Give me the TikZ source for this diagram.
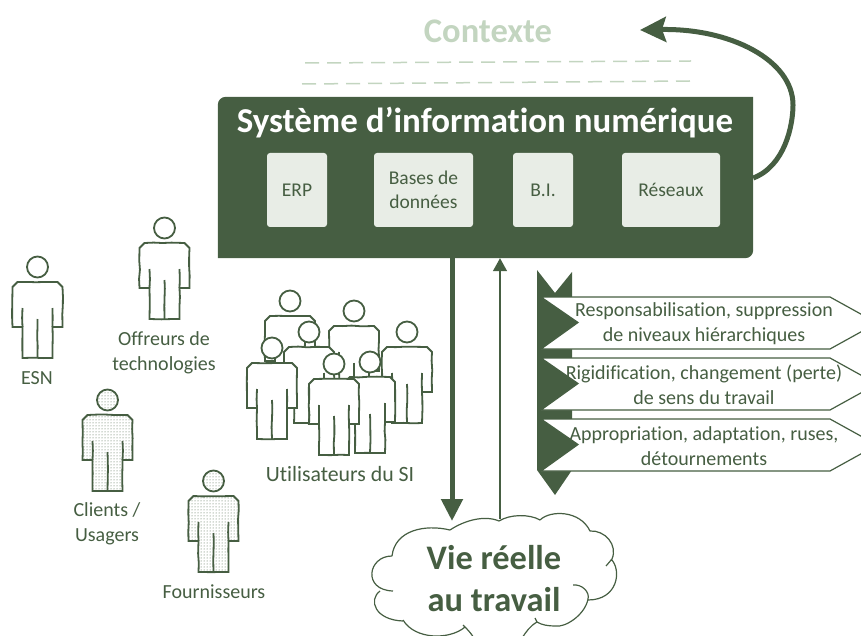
\documentclass[tikz,border=0pt]{standalone}
\usepackage{fontspec}
\setmainfont[Ligatures=CommonOff]{Carlito}
\usetikzlibrary{arrows.meta,patterns,decorations.pathmorphing}
\definecolor{dkgreen}{HTML}{465E42}
\definecolor{ltgreen}{HTML}{E8EDE6}
\definecolor{ctxgreen}{HTML}{C3D5C0}
\tikzset{
  sketchy/.style={decorate,decoration={random steps,segment length=9pt,amplitude=0.45pt}},
  person/.pic={
    \path[pic actions] (0,0) circle (10.5);
    \path[pic actions,sketchy] (-25,20) -- (-20,15) -- (20,15) -- (25,20) -- (25,60) -- (15,60)
      -- (15,91) -- (-15,91) -- (-15,60) -- (-25,60) -- cycle;
    \draw[dkgreen,line width=1.8pt,sketchy] (-15,60) -- (-15,41) (15,60) -- (15,41) (0,52) -- (0,91);
  },
  plainperson/.style={draw=dkgreen,line width=1.8pt,fill=white},
  dotperson/.style={draw=dkgreen,line width=1.8pt,pattern=dots,pattern color=dkgreen},
  sublabel/.style={text=dkgreen,font=\fontsize{20}{25}\selectfont,align=center,inner sep=0pt},
  innerbox/.style={fill=ltgreen,rounded corners=3pt,minimum height=74pt,inner sep=0pt,
    text=dkgreen,font=\fontsize{19.5}{24}\selectfont,align=center},
  bigarrow/.style={draw=dkgreen,line width=5pt,-{Triangle[length=22pt,width=21pt]}},
  thinarrow/.style={draw=dkgreen,line width=1.4pt,-{Triangle[length=13pt,width=14pt]}},
  chevron/.style={draw=dkgreen,line width=1.2pt,fill=white},
  dashline/.style={draw=ctxgreen,line width=1.5pt,dash pattern=on 14pt off 8pt},
}
\begin{document}
\begin{tikzpicture}[x=1pt,y=-1pt]
  \pgfmathsetseed{7}
  \path[use as bounding box,clip] (0,0) rectangle (861,636);

  % contexte
  \node (contexte) at (488,31) [text=ctxgreen,font=\fontsize{34.5}{40}\bfseries\selectfont,inner sep=0pt] {Contexte};
  \draw[dashline] (305,63) -- (691,61);
  \draw[dashline] (302,84) -- (690,81);

  % systeme
  \node (sysbox) at (485.5,177.5) [minimum width=535pt,minimum height=161pt,inner sep=0pt] {};
  \fill[dkgreen] (sysbox.south west) [rounded corners=8pt] -- (sysbox.north west)
    [sharp corners] -- (sysbox.north east) [rounded corners=8pt] -- (sysbox.south east)
    [sharp corners] -- cycle;
  \node (systitle) at (485,123) [text=white,font=\fontsize{34.9}{40}\bfseries\selectfont,inner sep=0pt] {Système d’information numérique};
  \node[innerbox,minimum width=60pt] (erp) at (297,190) {ERP};
  \node[innerbox,minimum width=99pt] (bases) at (423.5,190) {Bases de\\données};
  \node[innerbox,minimum width=60pt] (bi) at (543,190) {B.I.};
  \node[innerbox,minimum width=98pt] (reseaux) at (671,190) {Réseaux};
  \coordinate (ctxtip) at (640,30);
  \draw[dkgreen,line width=5pt,-{Stealth[length=26pt,width=25pt,inset=4pt]}]
    (sysbox.east |- 0,178) .. controls (785,166) and (793,125) .. (793,105)
    .. controls (793,60) and (730,28) .. (ctxtip);

  % personnes
  \foreach \px/\py in {37.5/267,164.5/228}
    \pic[plainperson] at (\px,\py) {person};
  \foreach \px/\py in {107.5/400,213.5/481}
    \pic[dotperson] at (\px,\py) {person};
  \foreach \px/\py in {290/301,354/311,407/332,309/332,370/362,272/348,334/364}
    \pic[plainperson] at (\px,\py) {person};
  \node[sublabel] (esn) at (37,378) {ESN};
  \node[sublabel] (offreurs) at (164,353) {Offreurs de\\technologies};
  \node[sublabel] (clients) at (107,524) {Clients /\\Usagers};
  \node[sublabel] (fournisseurs) at (214,592) {Fournisseurs};
  \node[sublabel,font=\fontsize{21.8}{25}\selectfont] (utilisateurs) at (340,474) {Utilisateurs du SI};

  % nuage
  \draw[dkgreen,line width=1.2pt]
    (450,530) .. controls (425,524) and (395,530) .. (392,556)
    (392,556) .. controls (368,556) and (362,590) .. (393,591)
    (380,591) .. controls (368,600) and (375,620) .. (403,621)
    (403,620) .. controls (415,640) and (450,640) .. (465,627)
    (463,625) .. controls (468,630) and (470,632) .. (474,638)
    (522,638) .. controls (526,632) and (530,626) .. (537,622)
    (537,622) -- (535,618)
    (450,530) .. controls (465,520) and (485,515) .. (499,521)
    (499,521) .. controls (510,514) and (530,514) .. (540,520)
    (540,520) .. controls (550,510) and (580,510) .. (590,531)
    (590,531) .. controls (605,530) and (618,545) .. (612,559) -- (606,566)
    (611,559) .. controls (622,570) and (618,600) .. (588,600)
    (573,585) .. controls (582,584) and (590,592) .. (588,599)
    (588,599) .. controls (585,615) and (565,628) .. (555,626)
    .. controls (548,626) and (542,625) .. (537,622);
  \node (vie) at (494,579) [text=dkgreen,font=\fontsize{34.4}{42}\bfseries\selectfont,align=center,inner sep=0pt] {Vie réelle\\au travail};
  \coordinate (viedown) at (452,521);
  \coordinate (vieup) at (500,519);
  \draw[bigarrow] (viedown |- sysbox.south) -- (viedown);
  \draw[thinarrow] (vieup) -- (vieup |- sysbox.south);

  % chevrons
  \fill[dkgreen] (537,270) -- (555,293) -- (572,272) -- (572,470) -- (555,495) -- (537,470) -- cycle;
  \foreach \cy/\lineA/\lineB in {297/{Responsabilisation, suppression}/{de niveaux hiérarchiques},
                                 358/{Rigidification, changement (perte)}/{de sens du travail},
                                 419/{Appropriation, adaptation, ruses,}/{détournements}}{
    \fill[dkgreen] (541,\cy) -- (578,\cy+25.5) -- (541,\cy+52) -- cycle;
    \draw[chevron] (541,\cy) -- (830,\cy) -- (877,\cy+26) -- (830,\cy+52) -- (541,\cy+52) -- (578,\cy+25.5) -- cycle;
    \node[sublabel] (chev\cy) at (704,\cy+27) {\lineA\\\lineB};
  }
\end{tikzpicture}
\end{document}
